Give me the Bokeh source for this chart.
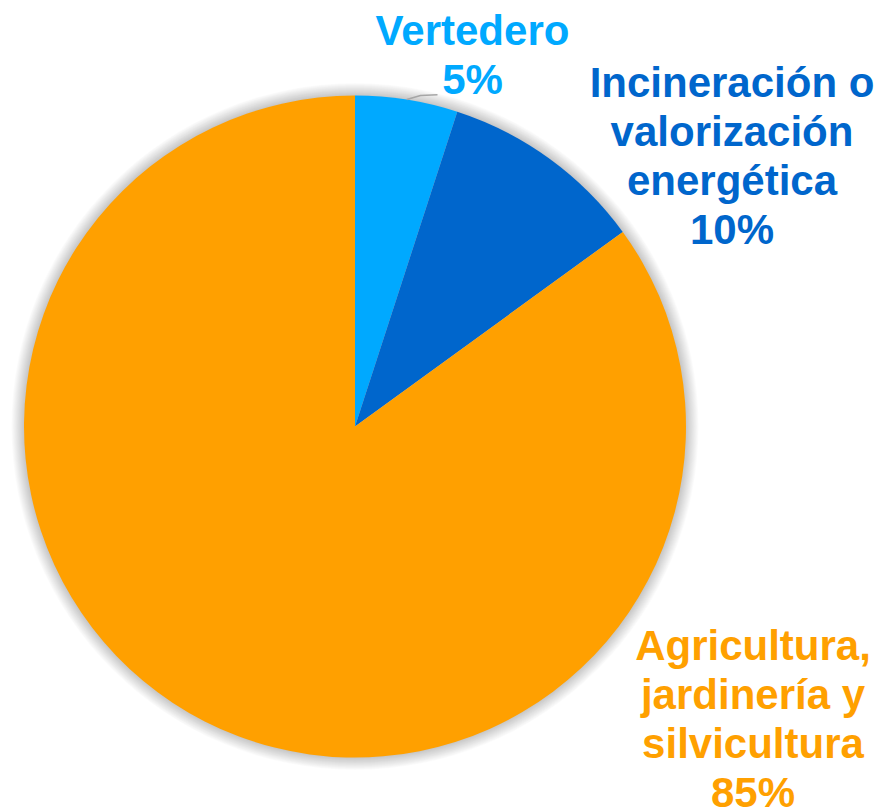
import numpy as np
from bokeh.plotting import figure
from bokeh.models import Range1d
from bokeh.core.properties import value
from bokeh.embed import file_html
from bokeh.resources import INLINE

categories = ["Vertedero", "Incineración o valorización energética", "Agricultura, jardinería y silvicultura"]
values = [5, 10, 85]
colors = ["#00A9FF", "#0066CC", "#FFA000"]
label_lines = [["Vertedero"], ["Incineración o", "valorización", "energética"], ["Agricultura,", "jardinería y", "silvicultura"]]

# layout (picture pixel coordinates; y data = -picture y)
W, H = 874, 811
cx, cy, r = 354.5, -426.0, 331.0
text_shift = 15.0
label_pos = [(472.0, -45.0 + text_shift), (731.5, -96.7 + text_shift), (752.5, -660.0 + text_shift)]
line_h = 49.0

p = figure(width=W, height=H, x_range=Range1d(0, W), y_range=Range1d(-H, 0),
           output_backend="svg", toolbar_location=None, min_border=0)
p.axis.visible = False
p.grid.visible = False
p.outline_line_color = None
p.background_fill_color = "white"
p.border_fill_color = "white"

# soft shadow
for k in range(14, 0, -1):
    p.circle(x=[cx], y=[cy], radius=r + k * 0.9, fill_color="#000000", fill_alpha=0.016,
             line_color=None)

total = float(sum(values))
fracs = np.array(values) / total
ends = np.cumsum(fracs) * 2 * np.pi
starts = np.concatenate([[0], ends[:-1]])
start_angles = np.pi / 2 - starts
end_angles = np.pi / 2 - ends

p.wedge(x=[cx] * 3, y=[cy] * 3, radius=r, start_angle=list(start_angles), end_angle=list(end_angles),
        direction="clock", fill_color=colors, line_color=None)

# leader line for the small slice
mid = np.pi / 2 - (starts[0] + ends[0]) / 2
x0, y0 = cx + r * np.cos(mid), cy + r * np.sin(mid)
p.line(x=[x0, 420, 437], y=[y0, -95, -94.3], line_color="#A6A6A6", line_width=1.5)

for i, lines in enumerate(label_lines):
    lx, ly = label_pos[i]
    texts = lines + [f"{values[i]}%"]
    ys = [ly - j * line_h for j in range(len(texts))]
    p.text(x=[lx] * len(texts), y=ys, text=texts, text_align="center", text_baseline="alphabetic",
           text_font=value("Liberation Sans"), text_font_style="bold", text_font_size="42px",
           text_color=colors[i])

open("out.html", "w").write(file_html(p, INLINE))
